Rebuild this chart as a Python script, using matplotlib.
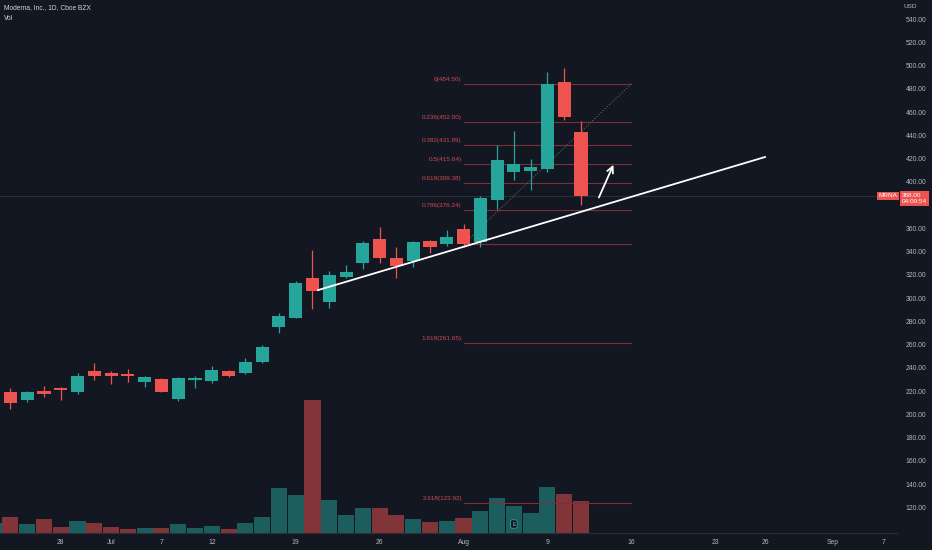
import numpy as np
import matplotlib
matplotlib.use('Agg')
import matplotlib.pyplot as plt
import matplotlib.transforms as mtransforms

plt.rcParams['font.family'] = ['Liberation Sans', 'DejaVu Sans']

# trading day index, Aug 2 2021 = 0
day_idx = list(range(-28, 8))
opens = [210, 219, 212.5, 220, 222, 219, 237, 235.5, 234.5, 227.7, 230.5, 213.3,
         230, 229, 237.7, 235.4, 245, 275.5, 283.4, 317, 297, 318, 330, 351,
         334.4, 332, 349.5, 346.4, 359.3, 348, 384.5, 409, 409.7, 411, 485.8, 443.3]
highs = [221, 223, 220, 224.5, 224, 236, 244, 237.5, 239, 233, 231.5, 232,
         233.5, 241.7, 238.5, 248.3, 259.8, 287.6, 315, 341.5, 323.7, 328.6, 349, 361,
         344.4, 349.5, 350, 358.7, 364, 388, 432, 444, 419.5, 494.4, 497.8, 452.5]
lows = [206, 204.5, 211, 215, 212.5, 217.5, 229.5, 226, 228, 224, 219, 212,
        222.5, 227, 232.5, 235, 244.5, 270.4, 283, 290.5, 292, 317, 325, 330,
        317, 327, 339, 345, 344, 344.4, 377, 401.7, 393, 409, 453, 380]
closes = [219, 210, 219, 218, 221.5, 233, 233.5, 233.5, 233, 232, 219.6, 231,
          231.5, 238.3, 233.2, 245.4, 258.3, 285, 313, 306.2, 320, 323, 347.8, 335,
          327.7, 348, 344.4, 353, 346.5, 386, 419, 415.5, 413.2, 484.3, 456.2, 388]
volumes = [2.0, 3.2, 1.8, 2.8, 1.2, 2.4, 2.0, 1.2, 0.8, 1.0, 1.0, 1.8,
           1.0, 1.4, 0.8, 2.0, 3.2, 9.0, 7.6, 26.6, 6.6, 3.6, 5.0, 5.0,
           3.6, 2.8, 2.2, 2.4, 3.0, 4.4, 7.0, 5.4, 4.0, 9.2, 7.8, 6.4]

tick_idx = [-24, -21, -18, -15, -10, -5, 0, 5, 10, 15, 18, 22, 25]
tick_labels = ['28', 'Jul', '7', '12', '19', '26', 'Aug', '9', '16', '23', '26', 'Sep', '7']

# 380 is covered by the last-price badge on the chart
price_ticks = [p for p in range(120, 541, 20) if p != 380]
last_price = 388.00

# fibonacci retracement (levels as shown on chart)
fib_ratios = ['0', '0.236', '0.382', '0.5', '0.618', '0.786', '1', '1.618', '2.618']
fib_levels = [484.50, 452.00, 431.89, 415.64, 399.38, 376.24, 346.78, 261.65, 123.92]
fib_start, fib_end = 0, 10

# trend line and arrow
trend_x = [-8.67, 17.97]
trend_y = [307, 421.5]
arrow_from = (8.0, 384.5)
arrow_to = (9.0, 417.0)

bg = '#131722'
up = '#26a69a'
down = '#ef5350'
txt = '#b2b5be'
fs = 4.6

fig = plt.figure(figsize=(9.32, 5.5), dpi=100, facecolor=bg)
rect = [0, 17 / 550, 897 / 932, 533 / 550]
axv = fig.add_axes(rect, facecolor=bg)
ax = fig.add_axes(rect, facecolor='none', sharex=axv)

cols = [up if c >= o else down for o, c in zip(opens, closes)]

# volume
axv.bar(day_idx, volumes, width=0.96, color=cols, alpha=0.5, linewidth=0)
axv.set_ylim(0, 106.6)
axv.axis('off')
axv.text(3, 1.8, 'E', fontsize=3.5, color=txt, ha='center', va='center',
         bbox=dict(boxstyle='round,pad=0.35', fc=bg, ec=up, lw=0.6))

# candles
ax.vlines(day_idx, lows, highs, colors=cols, lw=0.9, zorder=3)
bottoms = [min(o, c) for o, c in zip(opens, closes)]
heights = [max(abs(c - o), 0.9) for o, c in zip(opens, closes)]
ax.bar(day_idx, heights, bottom=bottoms, width=0.78, color=cols, linewidth=0, zorder=4)

# price line
ax.axhline(last_price, color='#2a2e39', lw=0.8, zorder=1)

# fib levels
for r, lvl in zip(fib_ratios, fib_levels):
    ax.plot([fib_start, fib_end], [lvl, lvl], color='#7d2e3b', lw=0.8, zorder=2)
    if r != '1':
        ax.text(fib_start - 0.1, lvl + 1.5, '%s(%.2f)' % (r, lvl), fontsize=fs,
                color='#d04a50', ha='right', va='bottom', zorder=2)
ax.plot([fib_start, fib_end], [fib_levels[6], fib_levels[0]], color='#6a6d78', lw=0.6,
        ls=(0, (1.5, 2)), zorder=2)

# trend line + arrow
ax.plot(trend_x, trend_y, color='white', lw=1.3, zorder=5)
ax.annotate('', xy=arrow_to, xytext=arrow_from,
            arrowprops=dict(arrowstyle='->', color='white', lw=1.3, mutation_scale=11),
            zorder=5)

ax.set_xlim(-27.62, 25.83)
ax.set_ylim(98.06, 556.56)

ax.set_xticks(tick_idx)
ax.set_xticklabels(tick_labels)
ax.yaxis.tick_right()
ax.set_yticks(price_ticks)
ax.set_yticklabels(['%.2f' % p for p in price_ticks])
ax.tick_params(axis='x', length=0, pad=4, labelsize=fs + 0.3, labelcolor=txt)
ax.tick_params(axis='y', length=0, pad=6, labelsize=fs + 0.3, labelcolor=txt)
for s in ['top', 'left', 'right']:
    ax.spines[s].set_visible(False)
ax.spines['bottom'].set_color('#2a2e39')
ax.spines['bottom'].set_linewidth(0.8)

# last price badges
blend = mtransforms.blended_transform_factory(ax.transAxes, ax.transData)
ax.annotate('MRNA', xy=(1, last_price), xycoords=blend, xytext=(-9, 0),
            textcoords='offset pixels', ha='center', va='center', fontsize=fs,
            color='white', annotation_clip=False,
            bbox=dict(boxstyle='square,pad=0.3', fc=down, ec='none'))
ax.annotate('%.2f\n04:09:54' % last_price, xy=(1, last_price), xycoords=blend,
            xytext=(5, 3), textcoords='offset pixels', ha='left', va='top',
            fontsize=fs, color='white', linespacing=1.25, annotation_clip=False,
            bbox=dict(boxstyle='square,pad=0.35', fc=down, ec='none'))

fig.text(4 / 932, 1 - 8 / 550, 'Moderna, Inc., 1D, Cboe BZX', fontsize=fs + 0.2,
         color='#d1d4dc', ha='left', va='center')
fig.text(4 / 932, 1 - 19 / 550, 'Vol', fontsize=fs + 0.2, color='#d1d4dc',
         ha='left', va='center')
fig.text(917 / 932, 1 - 6 / 550, 'USD', fontsize=fs, color=txt, ha='right', va='center')

fig.savefig('out.png', dpi=100, facecolor=bg)
